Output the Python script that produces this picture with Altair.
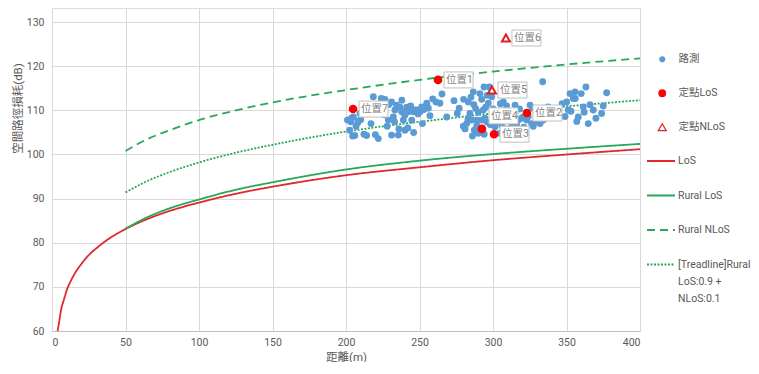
import altair as alt
import pandas as pd

FONT = "Roboto, Noto Sans CJK TC"

# ---- drive test (路測) points ----
drive_d = [202.3, 203.2, 205.0, 206.8, 208.4, 210.0, 212.2, 204.5, 218.6, 222.0,
           226.5, 228.8, 231.0, 232.2, 233.3, 234.4, 235.6, 236.7, 237.9, 239.0,
           240.1, 241.3, 242.4, 243.5, 244.7, 245.8, 246.9, 248.5, 250.3, 251.5,
           253.0, 254.9, 257.1, 261.2, 263.9, 265.3, 268.5, 273.5, 275.7, 279.8,
           282.1, 283.2, 284.3, 285.5, 286.6, 287.3, 288.2, 288.9, 290.0, 291.1,
           292.3, 293.4, 293.9, 294.5, 295.7, 296.8, 297.5, 299.1, 301.3, 302.5,
           303.6, 304.7, 307.0, 309.3, 311.5, 312.7, 315.0, 317.2, 319.5, 320.6,
           322.9, 325.2, 326.3, 327.4, 329.7, 332.0, 333.8, 334.2, 337.6, 350.1,
           351.2, 352.4, 354.6, 355.8, 358.0, 361.4, 363.2, 364.8, 368.2, 373.9,
           377.3,
           201.0, 202.5, 204.0, 206.0, 208.0, 209.5, 214.0, 217.0, 220.0, 222.0,
           224.0, 226.0, 228.0, 229.0, 231.0, 233.0, 236.0, 238.0, 240.0, 242.0,
           244.0, 246.0, 249.0, 252.0, 256.0, 259.0,
           277.0, 280.0, 281.0, 283.0, 285.0, 286.0, 287.0, 289.0, 290.0, 291.0,
           292.0, 294.0, 295.0, 296.0, 298.0, 300.0, 302.0, 305.0, 306.0, 308.0,
           310.0, 313.0, 316.0, 318.0, 321.0, 324.0, 327.0,
           347.0, 349.0, 353.0, 356.0, 357.0, 360.0, 362.0, 366.0, 370.0, 375.0]
drive_v = [107.9, 107.4, 108.5, 106.4, 107.6, 107.9, 104.6, 104.2, 113.1, 103.6,
           112.5, 107.8, 111.9, 108.5, 110.1, 111.2, 104.4, 110.7, 109.7, 107.8,
           105.5, 110.7, 109.7, 110.2, 107.8, 109.7, 110.1, 110.1, 109.7, 110.8,
           110.2, 111.6, 108.8, 111.9, 111.6, 113.7, 108.5, 112.2, 109.3, 106.4,
           107.0, 111.9, 109.3, 107.8, 114.2, 105.5, 110.4, 107.8, 104.8, 113.8,
           112.5, 110.1, 115.3, 108.2, 107.4, 111.6, 115.3, 113.1, 106.3, 107.4,
           109.3, 104.8, 111.9, 111.0, 107.8, 106.3, 111.2, 107.8, 108.2, 108.5,
           107.8, 111.2, 107.0, 106.4, 107.4, 107.0, 116.5, 107.8, 110.8, 111.9,
           110.1, 113.8, 112.7, 114.2, 108.5, 110.8, 115.3, 107.0, 110.1, 109.3,
           114.0,
           107.8, 105.5, 108.3, 104.3, 107.2, 109.3, 104.3, 107.0, 104.5, 110.8,
           112.7, 109.0, 106.4, 111.3, 104.4, 107.4, 105.8, 112.3, 108.9, 106.0,
           111.0, 105.0, 109.2, 107.0, 110.5, 112.6,
           110.5, 112.5, 105.8, 108.0, 113.0, 104.2, 111.3, 106.5, 109.6, 105.6,
           107.8, 104.6, 110.7, 113.4, 106.8, 110.3, 108.6, 111.5, 106.5, 109.8,
           105.8, 108.8, 106.8, 110.3, 106.2, 108.6, 110.5,
           111.5, 108.6, 109.8, 112.7, 107.5, 113.8, 109.6, 111.3, 108.2, 111.0]

# ---- fixed points ----
los_names = ["位置7", "位置1", "位置2", "位置4", "位置3"]
los_pt_d = [204.8, 262.6, 323.1, 292.5, 300.7]
los_pt_v = [110.3, 116.9, 109.4, 105.8, 104.6]
nlos_names = ["位置6", "位置5"]
nlos_pt_d = [308.8, 299.3]
nlos_pt_v = [126.4, 114.6]

# ---- model curves ----
los_d = [3.8, 5, 6, 8, 10, 13, 16, 20, 25, 30, 40, 50, 65, 80, 100, 125, 150,
         200, 250, 300, 350, 400]
los_v = [60.0, 62.3, 64.5, 67.0, 69.2, 71.5, 73.3, 75.2, 77.2, 78.7, 81.2, 83.1,
         85.4, 87.2, 89.1, 91.1, 92.7, 95.3, 97.1, 98.7, 100.0, 101.2]
rural_d = [50, 65, 80, 100, 125, 150, 200, 250, 300, 350, 400]
rural_los_v = [83.2, 85.8, 87.8, 89.8, 92.0, 93.7, 96.6, 98.6, 100.1, 101.3, 102.4]
rural_nlos_v = [100.8, 103.5, 105.5, 107.8, 110.0, 111.8, 114.6, 116.9, 118.8, 120.4, 121.8]
trend_v = [91.4, 94.0, 96.0, 98.2, 100.4, 102.2, 105.2, 107.4, 109.3, 110.9, 112.3]

PT_KINDS = ["路測", "定點LoS", "定點NLoS"]
TREND = "[Treadline]Rural LoS:0.9 + NLoS:0.1"
LN_KINDS = ["LoS", "Rural LoS", "Rural NLoS", TREND]

pts = pd.concat([
    pd.DataFrame({"d": drive_d, "v": drive_v, "kind": "路測", "name": ""}),
    pd.DataFrame({"d": los_pt_d, "v": los_pt_v, "kind": "定點LoS", "name": los_names}),
    pd.DataFrame({"d": nlos_pt_d, "v": nlos_pt_v, "kind": "定點NLoS", "name": nlos_names}),
], ignore_index=True)
labels = pts[pts["name"] != ""].reset_index(drop=True)

lines = pd.concat([
    pd.DataFrame({"d": los_d, "v": los_v, "series": "LoS"}),
    pd.DataFrame({"d": rural_d, "v": rural_los_v, "series": "Rural LoS"}),
    pd.DataFrame({"d": rural_d, "v": rural_nlos_v, "series": "Rural NLoS"}),
    pd.DataFrame({"d": rural_d, "v": trend_v, "series": TREND}),
], ignore_index=True)

GRID = "#d9d9d9"
TXT = "#595959"

x_enc = alt.X("d:Q", scale=alt.Scale(domain=[0, 400], nice=False),
              axis=alt.Axis(values=list(range(0, 401, 50)), title="距離(m)",
                            grid=True, gridColor=GRID, ticks=False,
                            domainColor="#bfbfbf", labelColor=TXT, labelFont=FONT,
                            labelFontSize=10.5, labelPadding=6, titleFont=FONT,
                            titleFontSize=11.5, titleColor=TXT, titleFontWeight="normal",
                            titleBaseline="middle", titleY=26))
y_enc = alt.Y("v:Q", scale=alt.Scale(domain=[60, 133.2], nice=False, zero=False),
              axis=alt.Axis(values=list(range(60, 131, 10)), title="空間路徑損耗(dB)",
                            grid=True, gridColor=GRID, ticks=False, domain=False,
                            labelColor=TXT, labelFont=FONT, labelFontSize=10.5,
                            labelPadding=8, titleFont=FONT, titleFontSize=11.5,
                            titleColor=TXT, titleFontWeight="normal", titleAngle=270,
                            titleAlign="center", titleBaseline="middle",
                            titleX=-34, titleY=100))

pt_legend = alt.Legend(title=None, orient="none", legendX=605, legendY=46, padding=0,
                       labelFont=FONT, labelFontSize=10.5, labelColor=TXT,
                       labelOffset=11, rowPadding=22, symbolStrokeWidth=1.2)
ln_legend = alt.Legend(title=None, orient="none", legendX=594, legendY=138, padding=0,
                       labelFont=FONT, labelFontSize=10.5, labelColor=TXT,
                       labelOffset=2, rowPadding=13.5, symbolType="stroke",
                       symbolSize=784, labelLimit=200,
                       labelExpr="datum.label == '" + TREND + "' ? ['[Treadline]Rural', 'LoS:0.9 +', 'NLoS:0.1'] : datum.label")

line_layer = alt.Chart(lines).mark_line(interpolate="monotone").encode(
    x=x_enc, y=y_enc,
    color=alt.Color("series:N", scale=alt.Scale(domain=LN_KINDS,
                    range=["#e0282e", "#27a85a", "#27a85a", "#27a85a"]), legend=ln_legend),
    strokeDash=alt.StrokeDash("series:N", scale=alt.Scale(domain=LN_KINDS,
                    range=[[1, 0], [1, 0], [8, 5], [2, 1.5]]), legend=ln_legend),
    strokeWidth=alt.StrokeWidth("series:N", scale=alt.Scale(domain=LN_KINDS,
                    range=[1.8, 1.8, 2.6, 2.2]), legend=ln_legend),
)

point_layer = alt.Chart(pts).mark_point(filled=False, opacity=1).encode(
    x="d:Q", y="v:Q",
    fill=alt.Fill("kind:N", scale=alt.Scale(domain=PT_KINDS,
                  range=["#5b9bd5", "#ff0000", "#ffffff"]), legend=pt_legend),
    stroke=alt.Stroke("kind:N", scale=alt.Scale(domain=PT_KINDS,
                  range=["#5b9bd5", "#ff0000", "#e02020"]), legend=pt_legend),
    shape=alt.Shape("kind:N", scale=alt.Scale(domain=PT_KINDS,
                  range=["circle", "circle", "triangle-up"]), legend=pt_legend),
    size=alt.Size("kind:N", scale=alt.Scale(domain=PT_KINDS,
                  range=[24, 64, 36]), legend=pt_legend),
)

box_main = alt.Chart(labels).transform_filter("datum.name != '位置4'").mark_rect(
    fill="white", stroke="#bfbfbf", strokeWidth=1,
    xOffset=6, x2Offset=35, yOffset=-8, y2Offset=8
).encode(x="d:Q", x2="d:Q", y="v:Q", y2="v:Q")
text_main = alt.Chart(labels).transform_filter("datum.name != '位置4'").mark_text(
    align="left", baseline="middle", dx=8, font=FONT, fontSize=10.5, color="#7f7f7f"
).encode(x="d:Q", y="v:Q", text="name:N")

box_up = alt.Chart(labels).transform_filter("datum.name == '位置4'").mark_rect(
    fill="white", stroke="#bfbfbf", strokeWidth=1,
    xOffset=7, x2Offset=36, yOffset=-21, y2Offset=-5
).encode(x="d:Q", x2="d:Q", y="v:Q", y2="v:Q")
text_up = alt.Chart(labels).transform_filter("datum.name == '位置4'").mark_text(
    align="left", baseline="middle", dx=9, dy=-13, font=FONT, fontSize=10.5,
    color="#7f7f7f"
).encode(x="d:Q", y="v:Q", text="name:N")

chart = alt.layer(line_layer, point_layer, box_main, text_main, box_up, text_up).properties(
    width=588, height=323,
    autosize=alt.AutoSizeParams(type="none"),
    padding={"left": 44, "top": 0, "right": 111, "bottom": 31},
).configure_view(stroke=None).configure(
    style={"guide-label": {"lineHeight": 17}}
)

chart.save("out.html", embed_options={"renderer": "svg", "actions": False})
